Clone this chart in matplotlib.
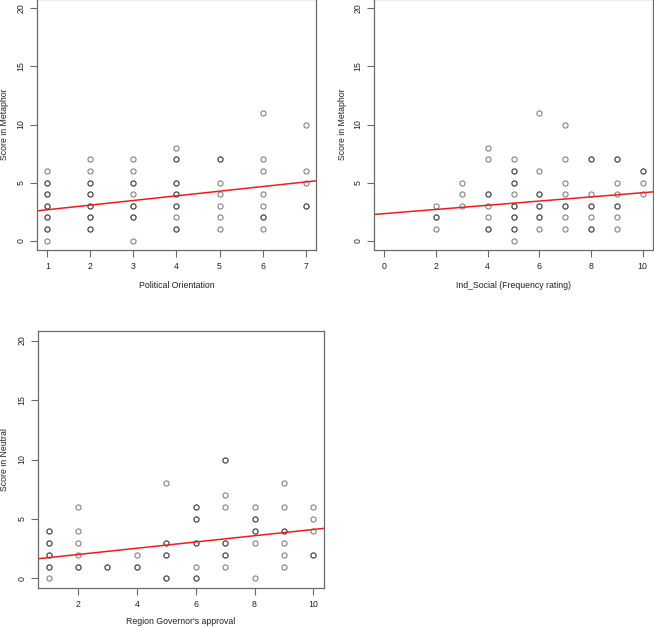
import matplotlib
matplotlib.use("Agg")
import matplotlib.pyplot as plt

plt.rcParams['font.family'] = ['Liberation Sans', 'DejaVu Sans']

# Panel 1: Political Orientation vs Score in Metaphor (duplicates repeated)
pol_x = [1]*12 + [2]*12 + [3]*10 + [4]*12 + [5]*7 + [6]*8 + [7]*5
pol_y = [6, 5, 5, 4, 4, 3, 3, 2, 2, 1, 1, 0,
         7, 6, 5, 5, 4, 4, 3, 3, 2, 2, 1, 1,
         7, 6, 5, 5, 4, 3, 3, 2, 2, 0,
         8, 7, 7, 5, 5, 4, 4, 3, 3, 2, 1, 1,
         7, 7, 5, 4, 3, 2, 1,
         11, 7, 6, 4, 3, 2, 2, 1,
         10, 6, 5, 3, 3]
pol_intercept, pol_slope = 2.265, 0.399

# Panel 2: Ind_Social (Frequency rating) vs Score in Metaphor
soc_x = [2]*4 + [3]*3 + [4]*8 + [5]*13 + [6]*9 + [7]*8 + [8]*8 + [9]*8 + [10]*4
soc_y = [3, 2, 2, 1,
         5, 4, 3,
         8, 7, 4, 4, 3, 2, 1, 1,
         7, 6, 6, 5, 5, 4, 3, 3, 2, 2, 1, 1, 0,
         11, 6, 4, 4, 3, 3, 2, 2, 1,
         10, 7, 5, 4, 3, 3, 2, 1,
         7, 7, 4, 3, 3, 2, 1, 1,
         7, 7, 5, 4, 3, 3, 2, 1,
         6, 6, 5, 4]
soc_intercept, soc_slope = 2.33, 0.18

# Panel 3: Region Governor's approval vs Score in Neutral
gov_x = [1]*9 + [2]*6 + [3]*2 + [4]*3 + [5]*7 + [6]*9 + [7]*9 + [8]*7 + [9]*7 + [10]*5
gov_y = [4, 4, 3, 3, 2, 2, 1, 1, 0,
         6, 4, 3, 2, 1, 1,
         1, 1,
         2, 1, 1,
         8, 3, 3, 2, 2, 0, 0,
         6, 6, 5, 5, 3, 3, 1, 0, 0,
         10, 10, 7, 6, 3, 3, 2, 2, 1,
         6, 5, 5, 4, 4, 3, 0,
         8, 6, 4, 4, 3, 2, 1,
         6, 5, 4, 2, 2]
gov_intercept, gov_slope = 1.49, 0.263

W, H = 654, 628
fig = plt.figure(figsize=(W/100, H/100), dpi=100)

def box(l, t, r, b):
    return [l/W, 1 - b/H, (r - l)/W, (b - t)/H]

axes_color = '#6a6a6a'

def panel(px, x, y, a, b, xlim, xticks, xlabel, ylabel, xlab_y, ylab_x):
    l, t, r, bt = px
    ax = fig.add_axes(box(l, t, r, bt))
    ax.plot(x, y, linestyle='none', marker='o', markersize=3.7,
            markerfacecolor='none', markeredgecolor=(0.1, 0.1, 0.1, 0.55),
            markeredgewidth=0.8)
    ax.axline((0, a), slope=b, color='#f01c1c', linewidth=1.1)
    ax.set_xlim(*xlim)
    ax.set_ylim(-0.8, 20.8)
    ax.set_xticks(xticks)
    ax.set_yticks([0, 5, 10, 15, 20])
    ax.minorticks_off()
    for s in ax.spines.values():
        s.set_color(axes_color)
        s.set_linewidth(0.9)
    ax.tick_params(direction='out', length=5, width=0.8, color=axes_color,
                   labelsize=6.3, pad=3.5, labelcolor='#222222')
    for lab in ax.get_yticklabels():
        lab.set_rotation(90)
        lab.set_va('center')
    ax.set_xlabel(xlabel, fontsize=6.3, color='#222222', va='center')
    ax.set_ylabel(ylabel, fontsize=6.3, color='#222222', va='center')
    ax.xaxis.set_label_coords(0.5, (bt - xlab_y) / (bt - t))
    ax.yaxis.set_label_coords((ylab_x - l) / (r - l), 0.5)
    return ax

ax1 = panel((37, -1, 316, 250), pol_x, pol_y, pol_intercept, pol_slope,
            (0.76, 7.24), [1, 2, 3, 4, 5, 6, 7],
            'Political Orientation', 'Score in Metaphor', 285, 5)
ax2 = panel((374, -1, 653, 250), soc_x, soc_y, soc_intercept, soc_slope,
            (-0.4, 10.4), [0, 2, 4, 6, 8, 10],
            'Ind_Social (Frequency rating)', 'Score in Metaphor', 285, 342)
ax3 = panel((38, 331, 324, 588), gov_x, gov_y, gov_intercept, gov_slope,
            (0.64, 10.36), [2, 4, 6, 8, 10],
            "Region Governor's approval", 'Score in Neutral', 621, 5)

fig.savefig('out.png', dpi=100)
